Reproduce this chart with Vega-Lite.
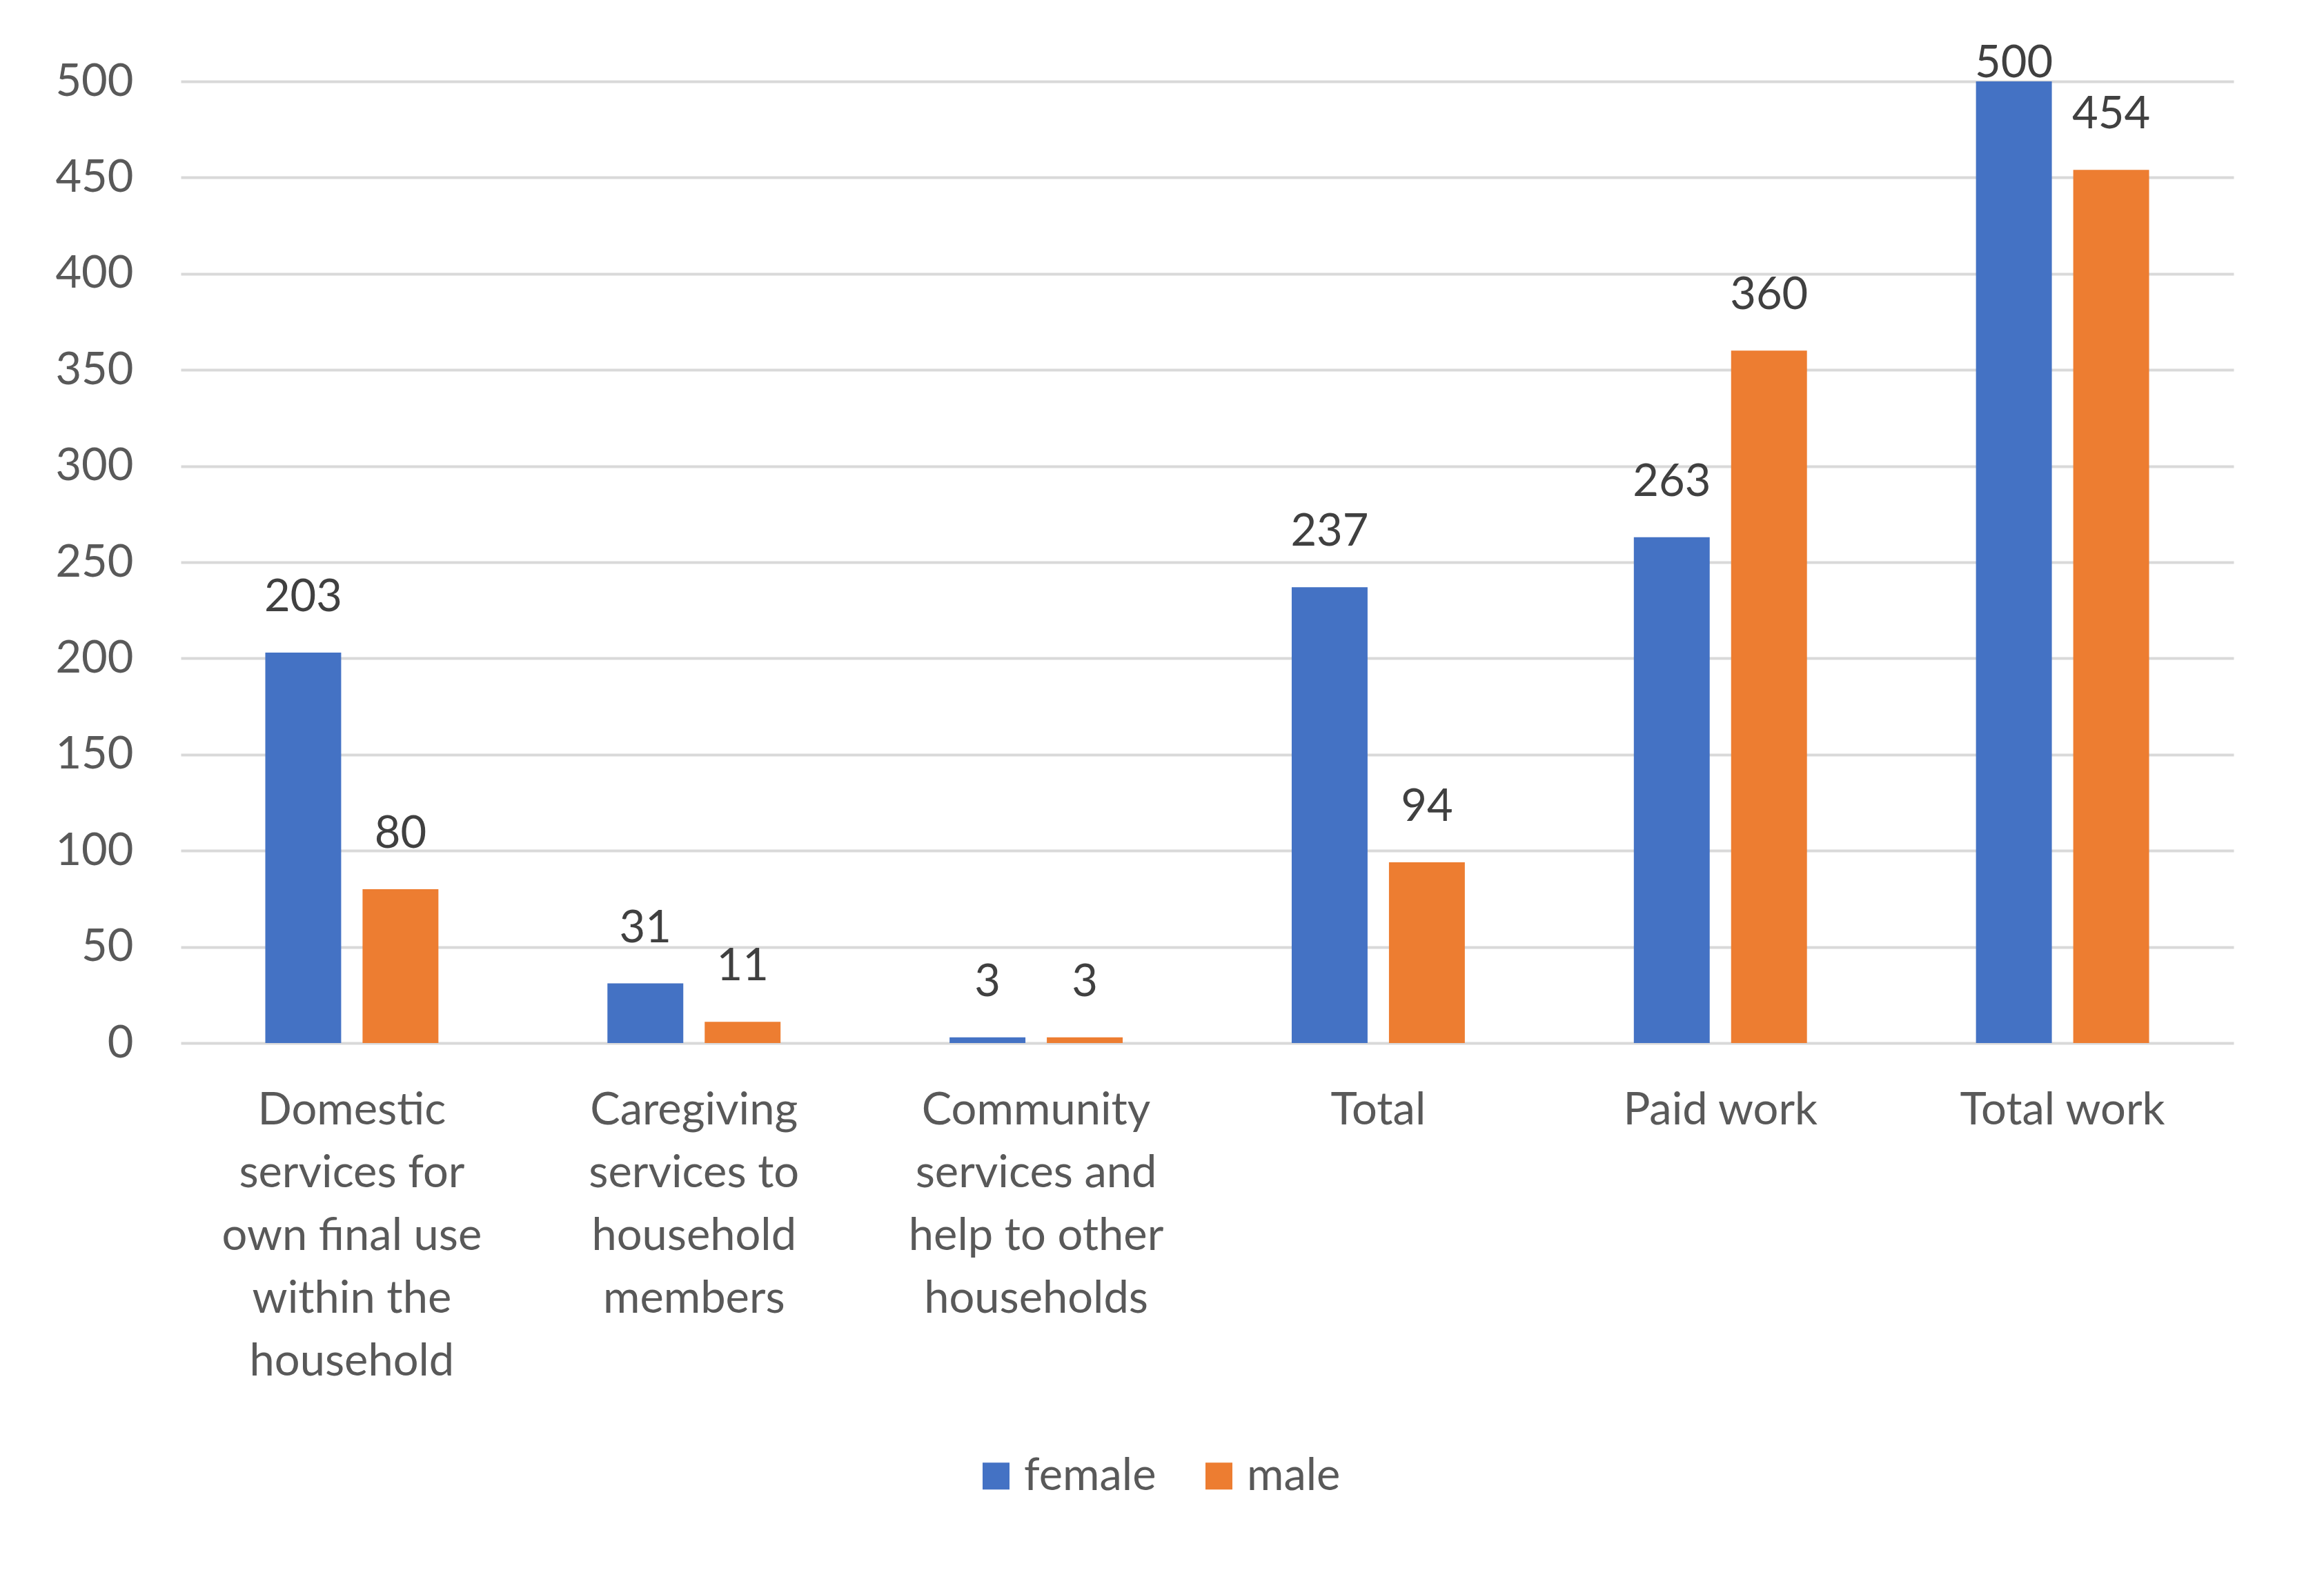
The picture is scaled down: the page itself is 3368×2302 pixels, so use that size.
{
  "$schema": "https://vega.github.io/schema/vega-lite/v6.json",
  "width": 2975,
  "height": 1394,
  "autosize": {"type": "none"},
  "padding": {"left": 262, "top": 118, "right": 131, "bottom": 790},
  "background": "white",
  "config": {
    "font": "Lato",
    "view": {"stroke": null},
    "axis": {"labelFont": "Lato", "labelFontSize": 65, "labelColor": "#595959"},
    "legend": {"labelFont": "Lato", "labelFontSize": 65, "labelColor": "#595959"}
  },
  "data": {
    "values": [
      {"category": "Domestic services for own final use within the household", "sex": "female", "value": 203},
      {"category": "Domestic services for own final use within the household", "sex": "male", "value": 80},
      {"category": "Caregiving services to household members", "sex": "female", "value": 31},
      {"category": "Caregiving services to household members", "sex": "male", "value": 11},
      {"category": "Community services and help to other households", "sex": "female", "value": 3},
      {"category": "Community services and help to other households", "sex": "male", "value": 3},
      {"category": "Total", "sex": "female", "value": 237},
      {"category": "Total", "sex": "male", "value": 94},
      {"category": "Paid work", "sex": "female", "value": 263},
      {"category": "Paid work", "sex": "male", "value": 360},
      {"category": "Total work", "sex": "female", "value": 500},
      {"category": "Total work", "sex": "male", "value": 454}
    ]
  },
  "encoding": {
    "x": {
      "field": "category",
      "type": "nominal",
      "sort": null,
      "title": null,
      "scale": {"paddingInner": 0.494, "paddingOuter": 0.247},
      "axis": {
        "labelAngle": 0,
        "ticks": false,
        "domain": false,
        "labelPadding": 66,
        "labelBaseline": "top",
        "labelLineHeight": 91,
        "labelLimit": 0,
        "labelExpr": "datum.value == 'Domestic services for own final use within the household' ? ['Domestic', 'services for', 'own final use', 'within the', 'household'] : datum.value == 'Caregiving services to household members' ? ['Caregiving', 'services to', 'household', 'members'] : datum.value == 'Community services and help to other households' ? ['Community', 'services and', 'help to other', 'households'] : datum.value"
      }
    },
    "xOffset": {
      "field": "sex",
      "type": "nominal",
      "scale": {"paddingInner": 0.22, "paddingOuter": 0}
    },
    "y": {
      "field": "value",
      "type": "quantitative",
      "title": null,
      "scale": {"domain": [0, 500], "nice": false},
      "axis": {
        "values": [0, 50, 100, 150, 200, 250, 300, 350, 400, 450, 500],
        "ticks": false,
        "domain": false,
        "gridColor": "#d9d9d9",
        "gridWidth": 4,
        "labelPadding": 69
      }
    }
  },
  "layer": [
    {
      "mark": {"type": "bar"},
      "encoding": {
        "color": {
          "field": "sex",
          "type": "nominal",
          "title": null,
          "scale": {"domain": ["female", "male"], "range": ["#4472C4", "#ED7D31"]},
          "legend": {
            "orient": "none",
            "direction": "horizontal",
            "legendX": 1149,
            "legendY": 1989,
            "symbolType": "square",
            "symbolSize": 1521,
            "symbolStrokeWidth": 0,
            "labelOffset": 8,
            "labelLimit": 0,
            "columnPadding": 58
          }
        }
      }
    },
    {
      "transform": [{"filter": "datum.value < 500"}],
      "mark": {"type": "text", "baseline": "alphabetic", "dy": -60, "fontSize": 65, "color": "#404040"},
      "encoding": {"text": {"field": "value", "type": "quantitative"}}
    },
    {
      "transform": [{"filter": "datum.value >= 500"}],
      "mark": {"type": "text", "baseline": "alphabetic", "dy": -6, "fontSize": 65, "color": "#404040"},
      "encoding": {"text": {"field": "value", "type": "quantitative"}}
    }
  ]
}
